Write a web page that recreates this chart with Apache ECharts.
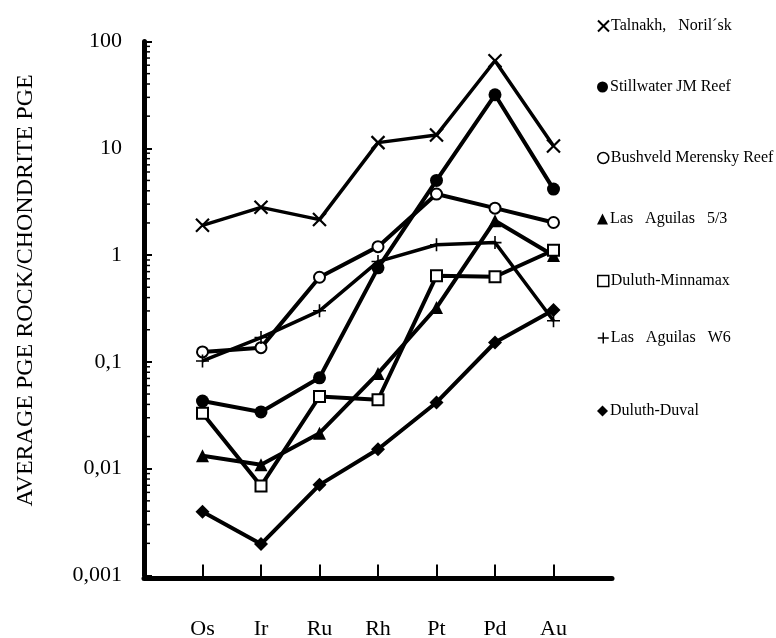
<!DOCTYPE html>
<html>
<head>
<meta charset="utf-8">
<script src="https://cdn.jsdelivr.net/npm/echarts@6/dist/echarts.min.js"></script>
<style>
html,body{margin:0;padding:0;background:#fff;}
#chart{width:776px;height:638px;}
</style>
</head>
<body>
<div id="chart"></div>
<script>
var categories = ['Os', 'Ir', 'Ru', 'Rh', 'Pt', 'Pd', 'Au'];
var talnakh      = [1.9, 2.8, 2.15, 11.3, 13.3, 66, 10.5];
var stillwater   = [0.043, 0.034, 0.071, 0.76, 5.0, 31.7, 4.15];
var bushveld     = [0.124, 0.136, 0.62, 1.2, 3.73, 2.75, 2.02];
var aguilas53    = [0.0132, 0.0109, 0.0215, 0.078, 0.323, 2.1, 0.99];
var minnamax     = [0.033, 0.0069, 0.0474, 0.0442, 0.64, 0.627, 1.11];
var aguilasW6    = [0.102, 0.169, 0.301, 0.87, 1.25, 1.31, 0.243];
var duval        = [0.00395, 0.00197, 0.00706, 0.0152, 0.0417, 0.152, 0.306];
var yTickLabels  = ['0,001', '0,01', '0,1', '1', '10', '100'];
var seriesNames  = ['Talnakh,   Noril\u00b4sk', 'Stillwater JM Reef', 'Bushveld Merensky Reef',
                    'Las   Aguilas   5/3', 'Duluth-Minnamax', 'Las   Aguilas   W6', 'Duluth-Duval'];

var FONT = "'Liberation Serif', 'Times New Roman', serif";
var CROSS = 'path://M0,0L10,10M10,0L0,10';
var PLUS = 'path://M5,0L5,10M0,5L10,5';

// minor log ticks (2..9 within each decade)
var minorTicks = [];
for (var e = -3; e <= 1; e++) {
  for (var d = 2; d <= 9; d++) {
    minorTicks.push([0, +(d * Math.pow(10, e)).toPrecision(3)]);
  }
}

var xAxisData = [''].concat(categories).concat([' ']);
function pairs(arr) { return categories.map(function (c, i) { return [c, arr[i]]; }); }

var chart = echarts.init(document.getElementById('chart'), null, {renderer: 'canvas'});

function mkSeries(name, data, symbol, size, extra) {
  var s = {
    name: name, type: 'line', data: pairs(data),
    symbol: symbol, symbolSize: size,
    lineStyle: {color: '#000', width: 4},
    itemStyle: {color: '#000', borderColor: '#000', borderWidth: 0},
    emphasis: {disabled: true},
    z: 3
  };
  if (extra) { for (var k in extra) s[k] = extra[k]; }
  return s;
}

var legendSpec = [
  {name: seriesNames[0], icon: CROSS, y: 21, style: {color: '#000', borderColor: '#000', borderWidth: 2}},
  {name: seriesNames[1], icon: 'circle', y: 82, style: {color: '#000', borderWidth: 0}},
  {name: seriesNames[2], icon: 'circle', y: 153, style: {color: '#fff', borderColor: '#000', borderWidth: 1.5}},
  {name: seriesNames[3], icon: 'triangle', y: 214, style: {color: '#000', borderWidth: 0}},
  {name: seriesNames[4], icon: 'rect', y: 276, style: {color: '#fff', borderColor: '#000', borderWidth: 1.5}},
  {name: seriesNames[5], icon: PLUS, y: 333, style: {color: '#000', borderColor: '#000', borderWidth: 1.5}},
  {name: seriesNames[6], icon: 'diamond', y: 406, style: {color: '#000', borderWidth: 0}}
];

var legends = legendSpec.map(function (l) {
  return {
    left: 592, top: l.y - 8, orient: 'vertical',
    itemWidth: 11, itemHeight: 11, itemGap: 0,
    selectedMode: false,
    data: [{name: l.name, icon: l.icon, itemStyle: l.style}],
    itemStyle: l.style,
    textStyle: {fontFamily: FONT, fontSize: 16, color: '#000', padding: [0, 0, 0, -3]}
  };
});

var option = {
  backgroundColor: '#fff',
  animation: false,
  legend: legends,
  grid: {left: 144, top: 41.5, width: 468, height: 534, containLabel: false, outerBoundsMode: 'none'},
  xAxis: {
    type: 'category', data: xAxisData, boundaryGap: false, offset: 3,
    axisLine: {lineStyle: {color: '#000', width: 5}},
    axisTick: {inside: true, length: 14, lineStyle: {color: '#000', width: 2},
      interval: function (i) { return i > 0 && i < xAxisData.length - 1; }},
    axisLabel: {fontFamily: FONT, fontSize: 22, color: '#000', margin: 40, interval: 0},
    splitLine: {show: false}
  },
  yAxis: {
    type: 'log', logBase: 10, min: 0.001, max: 100,
    name: 'AVERAGE PGE ROCK/CHONDRITE PGE', nameLocation: 'middle', nameRotate: 90, nameGap: 106,
    nameTextStyle: {fontFamily: FONT, fontSize: 24, color: '#000', padding: [0, 0, 0, 36]},
    axisLine: {show: true, lineStyle: {color: '#000', width: 5}},
    axisTick: {show: true, inside: true, length: 8, lineStyle: {color: '#000', width: 2}},
    axisLabel: {fontFamily: FONT, fontSize: 22, color: '#000', margin: 22, padding: [5, 0, 0, 0],
      formatter: function (v) {
        var idx = Math.round(Math.log10(v)) + 3;
        return yTickLabels[idx] !== undefined ? yTickLabels[idx] : String(v).replace('.', ',');
      }},
    splitLine: {show: false}
  },
  series: [
    {
      type: 'custom', name: 'minorTicks', silent: true, z: 1,
      data: minorTicks,
      encode: {x: 0, y: 1},
      renderItem: function (params, api) {
        var p = api.coord([0, api.value(1)]);
        return {type: 'line', shape: {x1: p[0], y1: p[1], x2: p[0] + 6, y2: p[1]},
          style: {stroke: '#000', lineWidth: 1.5}};
      }
    },
    mkSeries(seriesNames[0], talnakh, CROSS, 13, {itemStyle: {color: '#000', borderColor: '#000', borderWidth: 2.2}, lineStyle: {color: '#000', width: 3.5}}),
    mkSeries(seriesNames[1], stillwater, 'circle', 13),
    mkSeries(seriesNames[2], bushveld, 'emptyCircle', 11, {itemStyle: {color: '#000', borderColor: '#000', borderWidth: 1.6}}),
    mkSeries(seriesNames[3], aguilas53, 'triangle', 13),
    mkSeries(seriesNames[4], minnamax, 'emptyRect', 11, {itemStyle: {color: '#000', borderColor: '#000', borderWidth: 1.6}}),
    mkSeries(seriesNames[5], aguilasW6, PLUS, 13, {itemStyle: {color: '#000', borderColor: '#000', borderWidth: 1.6}, lineStyle: {color: '#000', width: 3.5}}),
    mkSeries(seriesNames[6], duval, 'diamond', 14)
  ]
};
chart.setOption(option);
</script>
</body>
</html>
